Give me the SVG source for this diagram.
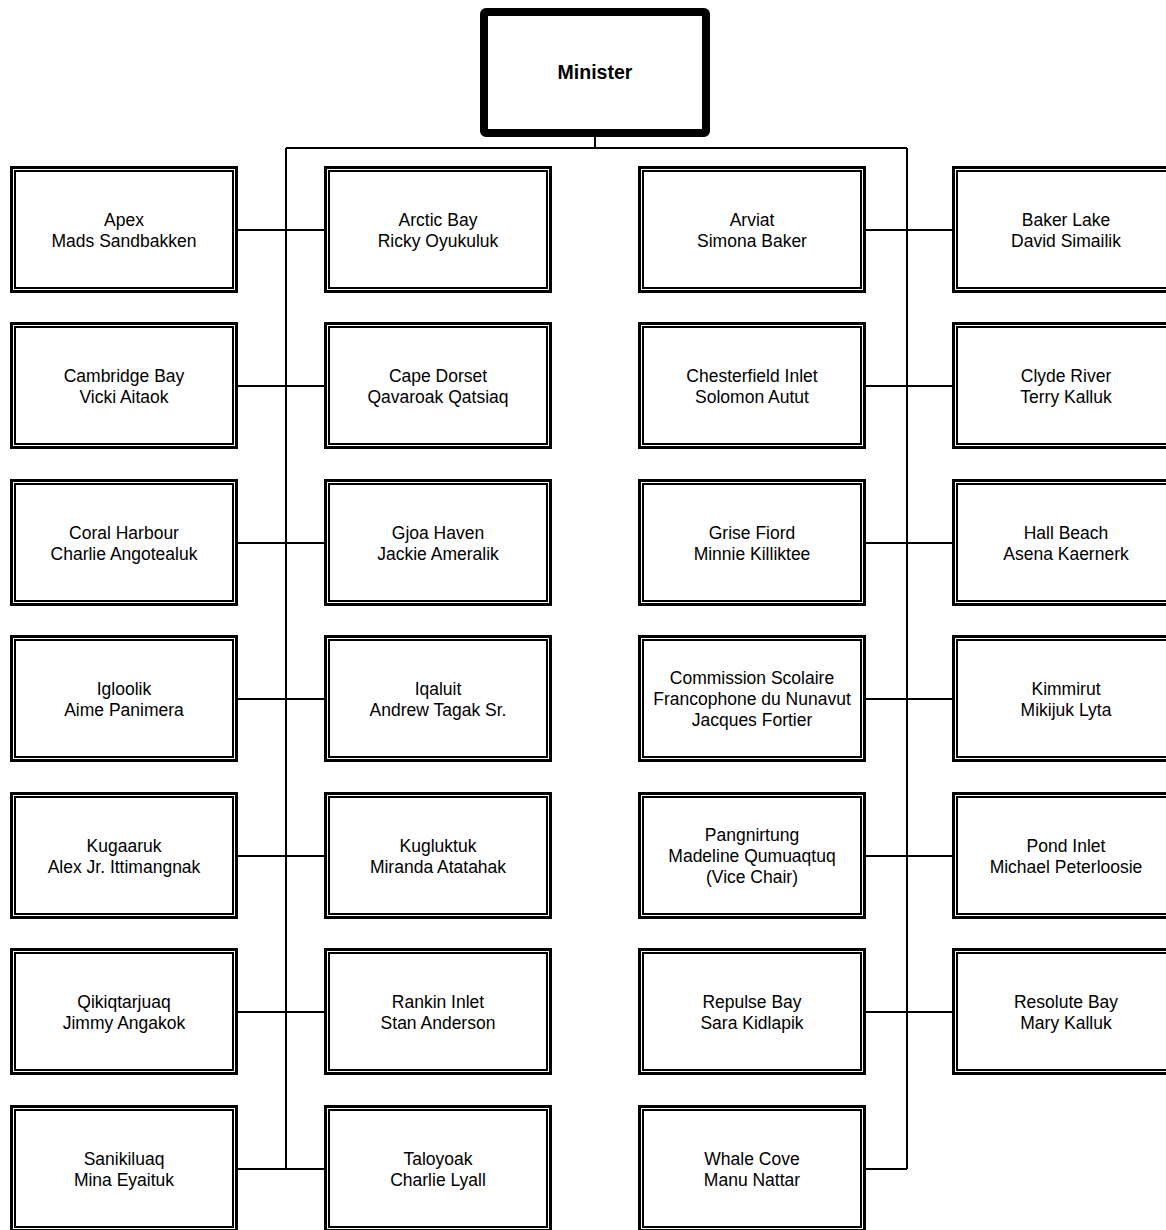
<svg xmlns="http://www.w3.org/2000/svg" xmlns:xlink="http://www.w3.org/1999/xlink" width="1166" height="1230" viewBox="0 0 1166 1230">
<style>
.t{font-family:"Liberation Sans",Arial,sans-serif;font-size:17.5px;fill:#000;text-anchor:middle}
.b{font-weight:bold;font-size:19.5px}
.c{fill:none;stroke:#000;stroke-width:2}
.o{fill:#fff;stroke:#000;stroke-width:3}
.i{fill:none;stroke:#000;stroke-width:2}
</style>
<defs>
<g id="box">
<rect class="o" x="1.5" y="1.5" width="225" height="124"/>
<rect class="i" x="5" y="5" width="218" height="117"/>
</g>
</defs>
<rect width="1166" height="1230" fill="#fff"/>
<g id="connectors">
<path class="c" d="M595 137V148M286 148H907M286 148V1169M907 148V1169"/>
<path class="c" d="M238 230H324M238 386H324M238 543H324M238 699H324M238 856H324M238 1012H324M238 1169H324"/>
<path class="c" d="M866 230H952M866 386H952M866 543H952M866 699H952M866 856H952M866 1012H952M866 1169H907"/>
</g>
<g id="minister">
<rect x="484" y="12" width="222" height="121" rx="2" fill="#fff" stroke="#000" stroke-width="8"/>
<text class="t b" x="595" y="79">Minister</text>
</g>
<g id="apex"><use xlink:href="#box" x="10" y="166"/><text class="t" x="124" y="226">Apex</text><text class="t" x="124" y="247">Mads Sandbakken</text></g>
<g id="arctic-bay"><use xlink:href="#box" x="324" y="166"/><text class="t" x="438" y="226">Arctic Bay</text><text class="t" x="438" y="247">Ricky Oyukuluk</text></g>
<g id="arviat"><use xlink:href="#box" x="638" y="166"/><text class="t" x="752" y="226">Arviat</text><text class="t" x="752" y="247">Simona Baker</text></g>
<g id="baker-lake"><use xlink:href="#box" x="952" y="166"/><text class="t" x="1066" y="226">Baker Lake</text><text class="t" x="1066" y="247">David Simailik</text></g>

<g id="cambridge-bay"><use xlink:href="#box" x="10" y="322"/><text class="t" x="124" y="382">Cambridge Bay</text><text class="t" x="124" y="403">Vicki Aitaok</text></g>
<g id="cape-dorset"><use xlink:href="#box" x="324" y="322"/><text class="t" x="438" y="382">Cape Dorset</text><text class="t" x="438" y="403">Qavaroak Qatsiaq</text></g>
<g id="chesterfield-inlet"><use xlink:href="#box" x="638" y="322"/><text class="t" x="752" y="382">Chesterfield Inlet</text><text class="t" x="752" y="403">Solomon Autut</text></g>
<g id="clyde-river"><use xlink:href="#box" x="952" y="322"/><text class="t" x="1066" y="382">Clyde River</text><text class="t" x="1066" y="403">Terry Kalluk</text></g>

<g id="coral-harbour"><use xlink:href="#box" x="10" y="479"/><text class="t" x="124" y="539">Coral Harbour</text><text class="t" x="124" y="560">Charlie Angotealuk</text></g>
<g id="gjoa-haven"><use xlink:href="#box" x="324" y="479"/><text class="t" x="438" y="539">Gjoa Haven</text><text class="t" x="438" y="560">Jackie Ameralik</text></g>
<g id="grise-fiord"><use xlink:href="#box" x="638" y="479"/><text class="t" x="752" y="539">Grise Fiord</text><text class="t" x="752" y="560">Minnie Killiktee</text></g>
<g id="hall-beach"><use xlink:href="#box" x="952" y="479"/><text class="t" x="1066" y="539">Hall Beach</text><text class="t" x="1066" y="560">Asena Kaernerk</text></g>

<g id="igloolik"><use xlink:href="#box" x="10" y="635"/><text class="t" x="124" y="695">Igloolik</text><text class="t" x="124" y="716">Aime Panimera</text></g>
<g id="iqaluit"><use xlink:href="#box" x="324" y="635"/><text class="t" x="438" y="695">Iqaluit</text><text class="t" x="438" y="716">Andrew Tagak Sr.</text></g>
<g id="csfn"><use xlink:href="#box" x="638" y="635"/><text class="t" x="752" y="684">Commission Scolaire</text><text class="t" x="752" y="705">Francophone du Nunavut</text><text class="t" x="752" y="726">Jacques Fortier</text></g>
<g id="kimmirut"><use xlink:href="#box" x="952" y="635"/><text class="t" x="1066" y="695">Kimmirut</text><text class="t" x="1066" y="716">Mikijuk Lyta</text></g>

<g id="kugaaruk"><use xlink:href="#box" x="10" y="792"/><text class="t" x="124" y="852">Kugaaruk</text><text class="t" x="124" y="873">Alex Jr. Ittimangnak</text></g>
<g id="kugluktuk"><use xlink:href="#box" x="324" y="792"/><text class="t" x="438" y="852">Kugluktuk</text><text class="t" x="438" y="873">Miranda Atatahak</text></g>
<g id="pangnirtung"><use xlink:href="#box" x="638" y="792"/><text class="t" x="752" y="841">Pangnirtung</text><text class="t" x="752" y="862">Madeline Qumuaqtuq</text><text class="t" x="752" y="883">(Vice Chair)</text></g>
<g id="pond-inlet"><use xlink:href="#box" x="952" y="792"/><text class="t" x="1066" y="852">Pond Inlet</text><text class="t" x="1066" y="873">Michael Peterloosie</text></g>

<g id="qikiqtarjuaq"><use xlink:href="#box" x="10" y="948"/><text class="t" x="124" y="1008">Qikiqtarjuaq</text><text class="t" x="124" y="1029">Jimmy Angakok</text></g>
<g id="rankin-inlet"><use xlink:href="#box" x="324" y="948"/><text class="t" x="438" y="1008">Rankin Inlet</text><text class="t" x="438" y="1029">Stan Anderson</text></g>
<g id="repulse-bay"><use xlink:href="#box" x="638" y="948"/><text class="t" x="752" y="1008">Repulse Bay</text><text class="t" x="752" y="1029">Sara Kidlapik</text></g>
<g id="resolute-bay"><use xlink:href="#box" x="952" y="948"/><text class="t" x="1066" y="1008">Resolute Bay</text><text class="t" x="1066" y="1029">Mary Kalluk</text></g>

<g id="sanikiluaq"><use xlink:href="#box" x="10" y="1105"/><text class="t" x="124" y="1165">Sanikiluaq</text><text class="t" x="124" y="1186">Mina Eyaituk</text></g>
<g id="taloyoak"><use xlink:href="#box" x="324" y="1105"/><text class="t" x="438" y="1165">Taloyoak</text><text class="t" x="438" y="1186">Charlie Lyall</text></g>
<g id="whale-cove"><use xlink:href="#box" x="638" y="1105"/><text class="t" x="752" y="1165">Whale Cove</text><text class="t" x="752" y="1186">Manu Nattar</text></g>
</svg>
